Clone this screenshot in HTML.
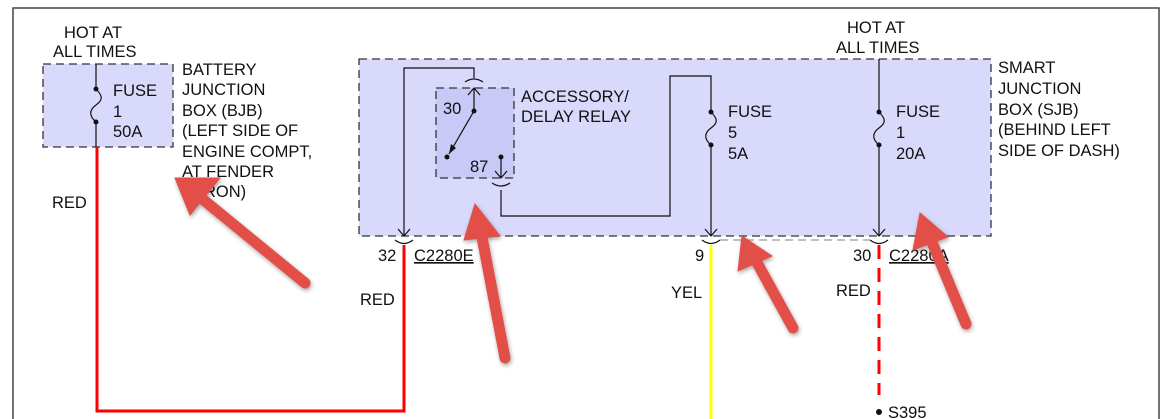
<!DOCTYPE html>
<html><head><meta charset="utf-8"><style>
html,body{margin:0;padding:0;background:#fff;}
svg{display:block;font-family:"Liberation Sans",Arial,sans-serif;}
text{font-size:16.5px;fill:#111;}
</style></head><body>
<svg width="1175" height="419" viewBox="0 0 1175 419" xmlns="http://www.w3.org/2000/svg">
<defs>
<filter id="sh" x="-20%" y="-20%" width="140%" height="140%"><feDropShadow dx="1" dy="2" stdDeviation="2" flood-color="#000" flood-opacity="0.35"/></filter>
</defs>
<path d="M13 419 V8 H1159 V419" fill="none" stroke="#444" stroke-width="1.5"/>
<rect x="43" y="64" width="130" height="83" fill="#d9d9fb" stroke="#333" stroke-width="1.3" stroke-dasharray="8,5"/>
<line x1="96" y1="64" x2="96" y2="89" stroke="#111" stroke-width="1.2"/>
<line x1="96" y1="122" x2="96" y2="147" stroke="#111" stroke-width="1.2"/>
<path d="M96 89 C103 96,103 100,96 105 C89 110,89 116,96 122" fill="none" stroke="#111" stroke-width="1.2"/>
<circle cx="96" cy="89" r="2.5" fill="#111"/><circle cx="96" cy="122" r="2.5" fill="#111"/>
<text x="64" y="38">HOT AT</text><text x="53" y="57">ALL TIMES</text>
<text x="113" y="96">FUSE</text><text x="113" y="117">1</text><text x="113" y="137">50A</text>
<text x="182" y="75">BATTERY</text><text x="182" y="95">JUNCTION</text><text x="182" y="116">BOX (BJB)</text>
<text x="182" y="136">(LEFT SIDE OF</text><text x="182" y="157">ENGINE COMPT,</text><text x="182" y="177">AT FENDER</text><text x="182" y="197">APRON)</text>
<text x="52" y="208">RED</text>
<path d="M97 147 V411 H404 V245" fill="none" stroke="#f00" stroke-width="3"/>
<rect x="359" y="59" width="632" height="177" fill="#d9d9fb" stroke="#333" stroke-width="1.3" stroke-dasharray="8,5"/>
<rect x="436" y="88" width="78" height="90" fill="#c9c9f7" stroke="#333" stroke-width="1.3" stroke-dasharray="8,5"/>
<g stroke="#111" stroke-width="1.2" fill="none">
<path d="M404 236 V68 H474 V78"/>
<path d="M465 82 Q474 76 483 82"/>
<path d="M474 88 V111"/><path d="M468 95 L474 88 L480 95"/>
<path d="M474 111 L449 154"/>
<path d="M501 157 V178"/><path d="M495 171 L501 178 L507 171"/>
<path d="M492 183 Q501 189 510 183"/>
<path d="M501 190 V216 H670 V76 H711 V112"/>
<path d="M711 145 V236"/><path d="M705 229 L711 236 L717 229"/>
<path d="M711 112 C718 119,718 123,711 128 C704 133,704 139,711 145"/>
<path d="M879 59 V112"/><path d="M879 145 V236"/><path d="M873 229 L879 236 L885 229"/>
<path d="M879 112 C886 119,886 123,879 128 C872 133,872 139,879 145"/>
<path d="M398 229 L404 236 L410 229"/>
<path d="M395 240 Q404 247 413 240"/><path d="M702 240 Q711 247 720 240"/><path d="M870 240 Q879 247 888 240"/>
</g>
<path d="M449 154 L451 144 L456 148 Z" fill="#111"/>
<circle cx="474" cy="111" r="2.5" fill="#111"/><circle cx="447" cy="157" r="2.5" fill="#111"/><circle cx="501" cy="157" r="2.5" fill="#111"/>
<circle cx="711" cy="112" r="2.5" fill="#111"/><circle cx="711" cy="145" r="2.5" fill="#111"/>
<circle cx="879" cy="112" r="2.5" fill="#111"/><circle cx="879" cy="145" r="2.5" fill="#111"/>
<text x="443" y="114">30</text><text x="470" y="172">87</text>
<text x="521" y="102">ACCESSORY/</text><text x="521" y="122">DELAY RELAY</text>
<text x="728" y="117">FUSE</text><text x="728" y="138">5</text><text x="728" y="159">5A</text>
<text x="896" y="117">FUSE</text><text x="896" y="138">1</text><text x="896" y="159">20A</text>
<text x="847" y="33">HOT AT</text><text x="836" y="53">ALL TIMES</text>
<text x="998" y="73">SMART</text><text x="998" y="94">JUNCTION</text><text x="998" y="115">BOX (SJB)</text><text x="998" y="135">(BEHIND LEFT</text><text x="998" y="156">SIDE OF DASH)</text>
<line x1="720" y1="240" x2="870" y2="240" stroke="#999" stroke-width="1.2" stroke-dasharray="8,5"/>
<text x="378" y="261">32</text><text x="414" y="261" text-decoration="underline">C2280E</text>
<text x="695" y="261">9</text>
<text x="853" y="261">30</text><text x="889" y="261" text-decoration="underline">C2280A</text>
<line x1="711" y1="245" x2="711" y2="419" stroke="#ff0" stroke-width="3"/>
<line x1="879" y1="245" x2="879" y2="395" stroke="#f00" stroke-width="3" stroke-dasharray="14,9"/>
<circle cx="879" cy="412" r="3" fill="#111"/><text x="888" y="418">S395</text>
<text x="671" y="298">YEL</text><text x="360" y="305">RED</text><text x="836" y="296">RED</text>
<g fill="#e2504a" stroke="#e2504a" stroke-width="11" stroke-linecap="round" filter="url(#sh)">
<line x1="305" y1="283" x2="200" y2="197"/><polygon points="175,178 220,178 190,215" stroke-width="1"/>
<line x1="505" y1="358" x2="481" y2="232"/><polygon points="475,204 500,236 464,240" stroke-width="1"/>
<line x1="793" y1="328" x2="755" y2="259"/><polygon points="742,236 772,256 738,271" stroke-width="1"/>
<line x1="966" y1="324" x2="931" y2="240"/><polygon points="920,213 948,237 913,250" stroke-width="1"/>
</g>
</svg>
</body></html>
